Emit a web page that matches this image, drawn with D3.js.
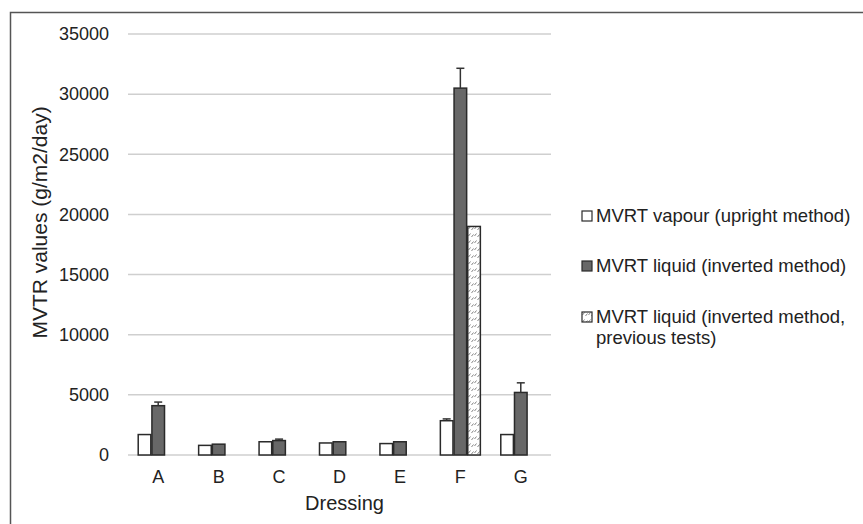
<!DOCTYPE html>
<html>
<head>
<meta charset="utf-8">
<script src="https://cdn.jsdelivr.net/npm/d3@7"></script>
<style>
  body { margin: 0; background: #fff; }
  text { font-family: "Liberation Sans", Arial, sans-serif; fill: #222; }
</style>
</head>
<body>
<figure id="chart" style="margin:0"></figure>
<script>
// data
const dressings = ["A", "B", "C", "D", "E", "F", "G"];
const vapour = [1700, 800, 1100, 1000, 950, 2850, 1700];
const vapourErr = [0, 0, 0, 0, 0, 150, 0];
const liquid = [4100, 900, 1200, 1100, 1100, 30500, 5200];
const liquidErr = [300, 0, 120, 0, 0, 1650, 800];
const previous = [null, null, null, null, null, 19000, null];
const yTicks = [0, 5000, 10000, 15000, 20000, 25000, 30000, 35000];
const seriesNames = ["MVRT vapour (upright method)", "MVRT liquid (inverted method)",
                     "MVRT liquid (inverted method, previous tests)"];

const width = 863, height = 524;
const plot = { left: 128, right: 551, top: 34, bottom: 455 };

const svg = d3.select("#chart").append("svg")
  .attr("width", width).attr("height", height);

// hatch for the "previous tests" series
const defs = svg.append("defs");
const pat = defs.append("pattern")
  .attr("id", "hatch").attr("patternUnits", "userSpaceOnUse")
  .attr("width", 6).attr("height", 7);
pat.append("rect").attr("width", 6).attr("height", 7).attr("fill", "#fff");
pat.append("path").attr("d", "M0.5,5 L2.5,2.5 M3.5,6 L5.5,3.5")
  .attr("stroke", "#777").attr("stroke-width", 0.9);

// outer frame (right and bottom run off the picture)
svg.append("path")
  .attr("d", "M10.5,524 L10.5,12.5 L863,12.5")
  .attr("fill", "none").attr("stroke", "#555").attr("stroke-width", 1.5);

const x = d3.scaleBand().domain(dressings).range([plot.left, plot.right]).padding(0);
const y = d3.scaleLinear().domain([0, 35000]).range([plot.bottom, plot.top]);

// gridlines
svg.append("g").selectAll("line").data(yTicks).enter().append("line")
  .attr("x1", plot.left).attr("x2", plot.right)
  .attr("y1", d => y(d)).attr("y2", d => y(d))
  .attr("stroke", "#cfcfcf").attr("stroke-width", 1.5);

// y axis labels
const yAxis = svg.append("g")
  .attr("transform", "translate(" + (plot.left - 19) + ",0)")
  .call(d3.axisLeft(y).tickValues(yTicks).tickFormat(d3.format("d")).tickSize(0).tickPadding(0));
yAxis.select(".domain").remove();
yAxis.selectAll("text").style("font-size", "18px").attr("fill", "#222")
  .attr("font-family", "Liberation Sans, Arial, sans-serif");

// x axis labels
const xAxis = svg.append("g")
  .attr("transform", "translate(0," + plot.bottom + ")")
  .call(d3.axisBottom(x).tickSize(0).tickPadding(15));
xAxis.select(".domain").remove();
xAxis.selectAll("text").style("font-size", "18px").attr("fill", "#222")
  .attr("font-family", "Liberation Sans, Arial, sans-serif");

// axis titles
svg.append("text")
  .attr("transform", "translate(47," + ((plot.top + plot.bottom) / 2 - 22) + ") rotate(-90)")
  .attr("text-anchor", "middle").style("font-size", "21px")
  .text("MVTR values (g/m2/day)");
svg.append("text")
  .attr("x", (plot.left + plot.right) / 2 + 5).attr("y", 510)
  .attr("text-anchor", "middle").style("font-size", "20px")
  .text("Dressing");

// bars
const slot = d3.scaleBand().domain([0, 1, 2]).range([0, 40]).paddingInner(0.08);
const series = [
  { vals: vapour, err: vapourErr, fill: "#fff" },
  { vals: liquid, err: liquidErr, fill: "#686868" },
  { vals: previous, err: null, fill: "url(#hatch)" }
];
const groupOffset = (x.bandwidth() - 40) / 2;

series.forEach((s, si) => {
  const rows = dressings.map((d, i) => ({ d, v: s.vals[i], e: s.err ? s.err[i] : 0 }))
    .filter(r => r.v != null);
  const g = svg.append("g");
  g.selectAll("rect").data(rows).enter().append("rect")
    .attr("x", r => x(r.d) + groupOffset + slot(si))
    .attr("y", r => y(r.v))
    .attr("width", slot.bandwidth())
    .attr("height", r => y(0) - y(r.v))
    .attr("fill", s.fill)
    .attr("stroke", "#2a2a2a").attr("stroke-width", 1.5);

  // upward error bars
  const eb = g.selectAll(".err").data(rows.filter(r => r.e > 0)).enter().append("g");
  const cx = r => x(r.d) + groupOffset + slot(si) + slot.bandwidth() / 2;
  eb.append("line")
    .attr("x1", cx).attr("x2", cx)
    .attr("y1", r => y(r.v)).attr("y2", r => y(r.v + r.e))
    .attr("stroke", "#333").attr("stroke-width", 1.5);
  eb.append("line")
    .attr("x1", r => cx(r) - 4).attr("x2", r => cx(r) + 4)
    .attr("y1", r => y(r.v + r.e)).attr("y2", r => y(r.v + r.e))
    .attr("stroke", "#333").attr("stroke-width", 1.5);
});

// legend
const legendRows = [
  { lines: [seriesNames[0]], fill: "#fff", y: 216 },
  { lines: [seriesNames[1]], fill: "#686868", y: 266 },
  { lines: ["MVRT liquid (inverted method,", "previous tests)"], fill: "url(#hatch)", y: 317 }
];
const lg = svg.append("g").selectAll("g").data(legendRows).enter().append("g")
  .attr("transform", d => "translate(582," + d.y + ")");
lg.append("rect")
  .attr("x", 0).attr("y", -5).attr("width", 10).attr("height", 10)
  .attr("fill", d => d.fill).attr("stroke", "#2a2a2a").attr("stroke-width", 1.2);
lg.append("text")
  .attr("y", 6)
  .style("font-size", "18.5px")
  .selectAll("tspan").data(d => d.lines).enter().append("tspan")
  .attr("x", 14).attr("dy", (l, i) => i === 0 ? 0 : 21)
  .text(l => l);
</script>
</body>
</html>
